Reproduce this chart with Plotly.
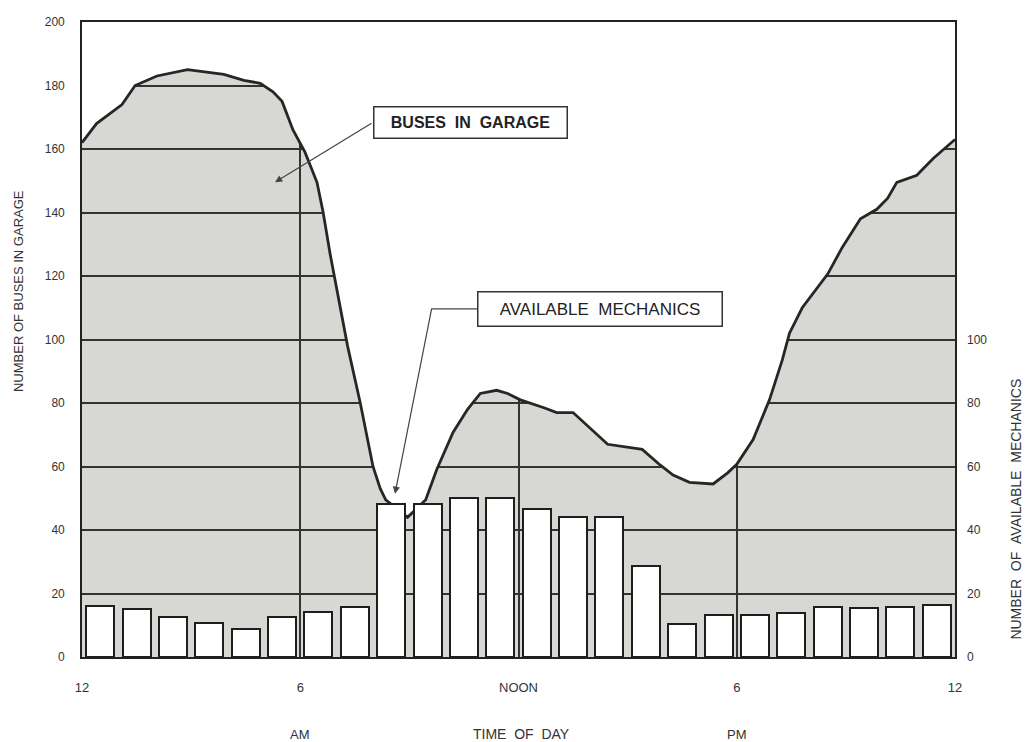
import plotly.graph_objects as go

# ---- data ----
curve_hours = [0, 0.4, 1.1, 1.46, 2.06, 2.9, 3.9, 4.45, 4.9, 5.25, 5.5, 5.8, 6.13, 6.46, 6.63, 6.82,
               7.3, 7.65, 8.0, 8.2, 8.35, 8.95, 9.45, 9.75, 10.2, 10.6, 10.95, 11.4, 11.7, 12.05,
               12.7, 13.05, 13.5, 14.0, 14.45, 15.4, 15.9, 16.25, 16.7, 17.35, 17.75, 18.0, 18.45,
               18.9, 19.25, 19.45, 19.8, 20.5, 20.9, 21.4, 21.85, 22.15, 22.4, 22.95, 23.4, 24.0]
buses_in_garage = [162, 168, 174, 180, 183, 185, 183.5, 181.6, 180.7, 178, 175, 166, 159, 149.5, 140, 127,
                   98, 80, 60, 53, 49.5, 44, 49.5, 59, 70.7, 78, 83, 84, 83, 81,
                   78.5, 77, 77, 71.7, 67, 65.4, 60.4, 57.3, 55, 54.5, 58, 60.7, 68.5,
                   81, 93.5, 102, 110, 120.6, 129, 138, 141, 144.5, 149.5, 151.7, 157, 163]

bar_hours = [h + 0.5 for h in range(24)]
available_mechanics = [16.2, 15, 12.5, 10.6, 8.7, 12.5, 14.3, 15.6, 48.3, 48.3, 50.2, 50.2,
                       46.7, 44.2, 44.2, 28.7, 10.3, 13.1, 13.1, 14, 15.6, 15.3, 15.9, 16.5]

x_tickvals = [0, 6, 12, 18, 24]
x_ticktext = ["12", "6", "NOON", "6", "12"]
left_ticks = list(range(0, 201, 20))
right_ticks = list(range(0, 101, 20))
y_max = 200

FONT = "Liberation Sans, Arial, sans-serif"
TXT = "#333333"
GRAY = "#d7d7d4"
DARK = "#262626"
NB = "\u00a0"

fig = go.Figure()

# top boundary (for white cover above the curve)
fig.add_trace(go.Scatter(x=curve_hours, y=[y_max] * len(curve_hours), mode="lines",
                         line=dict(width=0, color="white"), hoverinfo="skip", showlegend=False))
# buses curve, area above filled white so gray + grid only show below the curve
fig.add_trace(go.Scatter(x=curve_hours, y=buses_in_garage, mode="lines", fill="tonexty",
                         fillcolor="white", line=dict(color=DARK, width=2.8),
                         name="Buses in garage", showlegend=False))

# bars on overlaying axis so they sit above the curve
fig.add_trace(go.Bar(x=bar_hours, y=available_mechanics, width=0.77, yaxis="y2",
                     marker=dict(color="white", line=dict(color="#1e1e1e", width=2)),
                     name="Available mechanics", showlegend=False))

PLOT_TOP = 15
PLOT_BOTTOM = 657

# page body has an 8px margin, so the figure is sized to fit inside the window
fig.update_layout(
    width=1022, height=734,
    margin=dict(l=74, r=75, t=7, b=85),
    paper_bgcolor="white",
    plot_bgcolor=GRAY,
    font=dict(family=FONT, size=12, color=TXT),
    bargap=0,
    xaxis=dict(range=[0, 24], tickvals=x_tickvals, ticktext=x_ticktext,
               showgrid=True, gridcolor="#333333", gridwidth=1.5,
               showline=True, linecolor="#222", linewidth=1.6, mirror=True,
               ticks="", ticklabelstandoff=18, zeroline=False,
               tickfont=dict(family=FONT, size=13, color=TXT)),
    yaxis=dict(range=[0, y_max], tickvals=left_ticks,
               showgrid=True, gridcolor="#333333", gridwidth=1.5,
               showline=True, linecolor="#222", linewidth=1.6, mirror=True,
               ticks="", ticklabelstandoff=13, zeroline=False,
               tickfont=dict(family=FONT, size=12, color=TXT)),
    yaxis2=dict(range=[0, y_max], tickvals=right_ticks, overlaying="y", side="right",
                showgrid=False, zeroline=False, showline=False, ticks="",
                ticklabelstandoff=11,
                tickfont=dict(family=FONT, size=12, color=TXT)),
)

# helpers: window pixel -> paper coordinate
def px_x(px):
    return (px - 82) / 873.0

def px_y(py):
    return (PLOT_BOTTOM - py) / float(PLOT_BOTTOM - PLOT_TOP)

def sp(s):
    return s.replace(" ", NB + NB)

def note(text, x, y, size=12, angle=0, **kw):
    d = dict(text=text, xref="paper", yref="paper", x=px_x(x), y=px_y(y),
             xanchor="center", yanchor="middle", textangle=angle, showarrow=False,
             font=dict(family=FONT, size=size, color=kw.pop("color", TXT)))
    d.update(kw)
    return d

annotations = [
    note("NUMBER OF BUSES IN GARAGE", 18, 287, size=13, angle=-90),
    note(sp("NUMBER OF AVAILABLE MECHANICS"), 1016, 508, size=14, angle=-90),
    note("AM", 300, 735, size=13),
    note(sp("TIME OF DAY"), 521, 735, size=14),
    note("PM", 737, 735, size=13),
    note("<b>" + sp("BUSES IN GARAGE") + "</b>", 470, 117, size=16, color="#222", bgcolor="white",
         bordercolor="#333", borderwidth=1.5, width=190, height=28, borderpad=1),
    note(sp("AVAILABLE MECHANICS"), 600, 305, size=17, color="#222", bgcolor="white",
         bordercolor="#333", borderwidth=1.5, width=241, height=31, borderpad=1),
    # arrows
    dict(text="", x=(275 - 82) / 36.375, y=(PLOT_BOTTOM - 177) / 3.21, xref="x", yref="y",
         showarrow=True, ax=98, ay=-60, arrowhead=2, arrowsize=1.2, arrowwidth=1.2,
         arrowcolor="#444"),
    dict(text="", x=(395 - 82) / 36.375, y=(PLOT_BOTTOM - 492) / 3.21, xref="x", yref="y",
         showarrow=True, ax=37, ay=-187, arrowhead=2, arrowsize=1.2, arrowwidth=1.2,
         arrowcolor="#444"),
]
fig.update_layout(annotations=annotations)

fig.add_shape(type="line", xref="paper", yref="paper", x0=px_x(432), x1=px_x(478),
              y0=px_y(305), y1=px_y(305), line=dict(color="#444", width=1.2))

fig.write_html("out.html")
